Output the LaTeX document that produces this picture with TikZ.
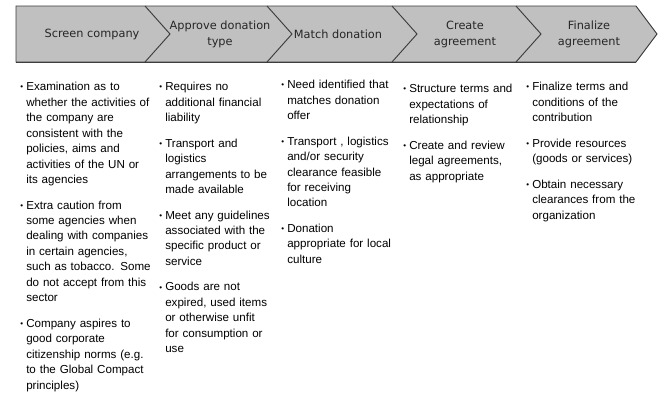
\documentclass[tikz,border=0pt]{standalone}
\usepackage{fontspec}
\setmainfont{Liberation Sans}
\newfontfamily\headfont{DejaVu Sans}
\usetikzlibrary{positioning}

\definecolor{bandfill}{HTML}{C0C0C0}
\definecolor{bandline}{HTML}{3C3C3C}

% one bullet point, hanging indent
\newcommand{\bitem}[1]{\par\hangindent=4.5pt\hangafter=1\noindent
  \makebox[4.5pt][l]{\raisebox{0.6pt}{\fontsize{6}{6}\selectfont\textbullet}}\strut#1\par}
\newcommand{\bgap}{\vspace{7.5pt}}

\begin{document}
\begin{tikzpicture}[x=0.75pt,y=-0.75pt,
  band/.style={fill=bandfill,draw=bandline,line width=0.7pt,line join=miter},
  sep/.style={draw=bandline,line width=0.7pt},
  head/.style={font=\headfont\fontsize{8.5}{12}\selectfont,align=center,inner sep=0pt,text=black!85},
  col/.style={anchor=north west,inner sep=0pt,text width=#1,align=left,
    font=\fontsize{8.7}{11.6}\selectfont}]
\useasboundingbox (0,0) rectangle (658,393);
% chevron band
\draw[band] (16,6) -- (636,6) -- (657,34) -- (636,62) -- (16,62) -- cycle;
\draw[bandline,line width=0.9pt] (16,62.3) -- (636,62.3);
\foreach \t in {145,267,392,516}
  \draw[sep] (\t,6) -- (\t+25,34) -- (\t,62);
% step titles
\node[head] (screen)   at (92,34)  {Screen company};
\node[head] (approve)  at (220,34) {Approve donation\\type};
\node[head] (match)    at (338,34) {Match donation};
\node[head] (create)   at (465,34) {Create\\agreement};
\node[head] (finalize) at (589,34) {Finalize\\agreement};
% bullet lists
\node[col=110pt] (screenlist) at (20,75) {%
  \bitem{Examination as to\newline whether the activities of\newline the company are\newline consistent with the\newline policies, aims and\newline activities of the UN or\newline its agencies}\bgap
  \bitem{Extra caution from\newline some agencies when\newline dealing with companies\newline in certain agencies,\newline such as tobacco. Some\newline do not accept from this\newline sector}\bgap
  \bitem{Company aspires to\newline good corporate\newline citizenship norms (e.g.\newline to the Global Compact\newline principles)}};
\node[col=100pt] (approvelist) at (159,75) {%
  \bitem{Requires no\newline additional financial\newline liability}\bgap
  \bitem{Transport and\newline logistics\newline arrangements to be\newline made available}\bgap
  \bitem{Meet any guidelines\newline associated with the\newline specific product or\newline service}\bgap
  \bitem{Goods are not\newline expired, used items\newline or otherwise unfit\newline for consumption or\newline use}};
\node[col=100pt] (matchlist) at (281,73) {%
  \bitem{Need identified that\newline matches donation\newline offer}\bgap
  \bitem{Transport , logistics\newline and/or security\newline clearance feasible\newline for receiving\newline location}\bgap
  \bitem{Donation\newline appropriate for local\newline culture}};
\node[col=100pt] (createlist) at (403,77) {%
  \bitem{Structure terms and\newline expectations of\newline relationship}\bgap
  \bitem{Create and review\newline legal agreements,\newline as appropriate}};
\node[col=100pt] (finalizelist) at (526,75) {%
  \bitem{Finalize terms and\newline conditions of the\newline contribution}\bgap
  \bitem{Provide resources\newline (goods or services)}\bgap
  \bitem{Obtain necessary\newline clearances from the\newline organization}};
\end{tikzpicture}
\end{document}
